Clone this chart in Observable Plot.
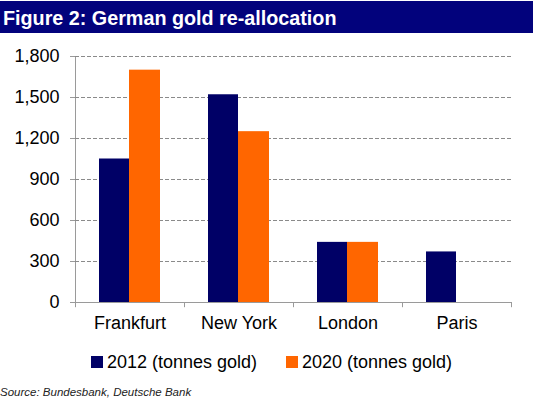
<!DOCTYPE html>
<html>
<head>
<meta charset="utf-8">
<script src="https://cdn.jsdelivr.net/npm/d3@7"></script>
<script src="https://cdn.jsdelivr.net/npm/@observablehq/plot@0.6"></script>
<style>
  html, body { margin: 0; padding: 0; background: #fff; }
  #wrap { position: relative; width: 533px; height: 400px; overflow: hidden; font-family: "Liberation Sans", Arial, sans-serif; }
  #title { position: absolute; left: 0; top: 1px; width: 533px; height: 32px; background: #02027c; }
  #title span { position: absolute; left: 3px; top: 0; color: #fff; font-weight: bold; font-size: 21px; line-height: 34px;
                white-space: nowrap; transform: scaleX(0.94); transform-origin: left center; }
  #chart { position: absolute; left: 0; top: 34px; }
  #chart svg text { fill: #000; }
  #legend { position: absolute; left: 0; top: 351px; width: 533px; height: 22px; font-size: 18px; }
  .item { position: absolute; top: 0; line-height: 22px; white-space: nowrap; }
  .sw { position: absolute; top: 5px; width: 12px; height: 12px; }
  #source { position: absolute; left: 0; top: 386px; font-size: 11.5px; line-height: 13px; font-style: italic; color: #222; white-space: nowrap; }
</style>
</head>
<body>
<div id="wrap">
  <div id="title"><span>Figure 2: German gold re-allocation</span></div>
  <div id="chart"></div>
  <div id="legend"></div>
  <div id="source">Source: Bundesbank, Deutsche Bank</div>
</div>
<script>
const cities = ["Frankfurt", "New York", "London", "Paris"];
const tonnes2012 = [1050, 1520, 440, 370];
const tonnes2020 = [1700, 1250, 440, 0];
const yTicks = [0, 300, 600, 900, 1200, 1500, 1800];
const seriesLabels = ["2012 (tonnes gold)", "2020 (tonnes gold)"];
const seriesColors = ["#000066", "#ff6600"];

const data2012 = cities.map((c, i) => ({city: c, value: tonnes2012[i]}));
const data2020 = cities.map((c, i) => ({city: c, value: tonnes2020[i]}));

const chart = Plot.plot({
  width: 533,
  height: 300,
  marginLeft: 75,
  marginRight: 22,
  marginTop: 22,
  marginBottom: 32,
  style: {fontSize: "18px", fontFamily: "Liberation Sans, Arial, sans-serif", color: "#9a9a9a", background: "transparent"},
  x: {domain: cities, padding: 0, tickSize: 0, tickPadding: 14, label: null},
  y: {domain: [0, 1800], ticks: yTicks, tickFormat: d3.format(","), tickSize: 5, tickPadding: 11, label: null, line: true},
  marks: [
    Plot.ruleY(yTicks.filter(d => d > 0), {stroke: "#8a8a8a", strokeDasharray: "4,2"}),
    Plot.barY(data2012, {x: "city", y: "value", fill: seriesColors[0], insetLeft: 24, insetRight: 55}),
    Plot.barY(data2020, {x: "city", y: "value", fill: seriesColors[1], insetLeft: 54, insetRight: 24}),
    Plot.ruleY([0], {stroke: "#9a9a9a"}),
    Plot.ruleX(cities, {x: d => d, y1: 0, y2: -38, dx: -54.5, stroke: "#9a9a9a"}),
    Plot.ruleX(cities.slice(-1), {x: d => d, y1: 0, y2: -38, dx: 54.5, stroke: "#9a9a9a"})
  ]
});
document.getElementById("chart").appendChild(chart);

const legend = document.getElementById("legend");
const lx = [91, 286];
seriesLabels.forEach((lab, i) => {
  const sw = document.createElement("div");
  sw.className = "sw";
  sw.style.left = lx[i] + "px";
  sw.style.background = seriesColors[i];
  legend.appendChild(sw);
  const t = document.createElement("div");
  t.className = "item";
  t.style.left = (lx[i] + 16) + "px";
  t.textContent = lab;
  legend.appendChild(t);
});
</script>
</body>
</html>
